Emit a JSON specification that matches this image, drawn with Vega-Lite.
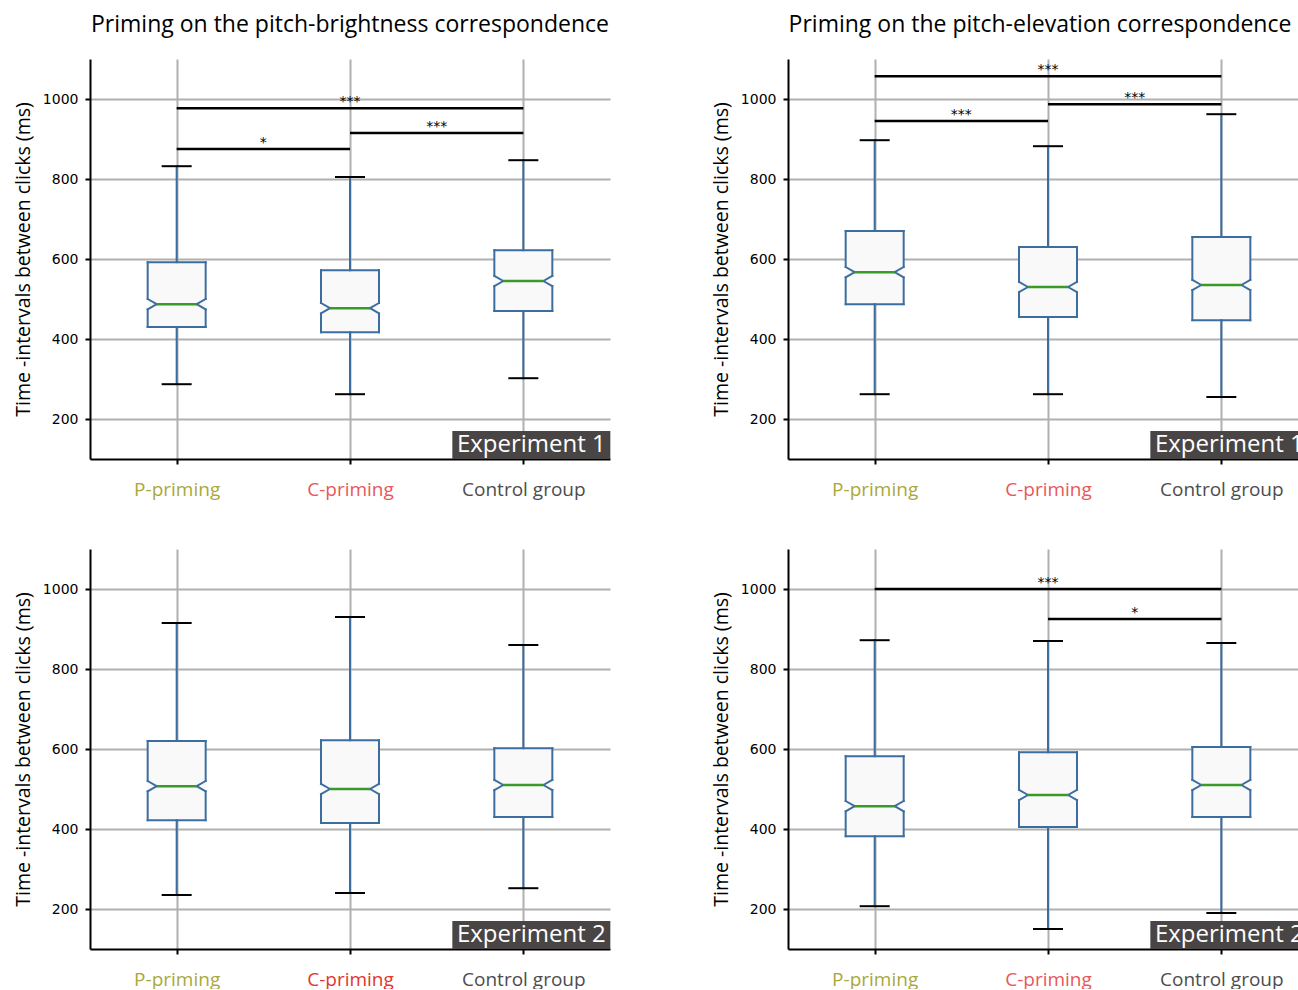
{
"$schema":"https://vega.github.io/schema/vega-lite/v6.json",
"padding":{"left":13,"top":14,"right":0,"bottom":0},
"datasets":{
"stats":[
{"panel":"A","group":"P-priming","lo":287,"q1":430,"nlo":474,"med":487,"nhi":500,"q3":592,"hi":832},
{"panel":"A","group":"C-priming","lo":262,"q1":417,"nlo":464,"med":477,"nhi":490,"q3":572,"hi":805},
{"panel":"A","group":"Control group","lo":302,"q1":470,"nlo":532,"med":545,"nhi":558,"q3":622,"hi":847},
{"panel":"B","group":"P-priming","lo":262,"q1":487,"nlo":554,"med":567,"nhi":580,"q3":670,"hi":897},
{"panel":"B","group":"C-priming","lo":262,"q1":455,"nlo":517,"med":530,"nhi":543,"q3":630,"hi":882},
{"panel":"B","group":"Control group","lo":255,"q1":447,"nlo":522,"med":535,"nhi":548,"q3":655,"hi":962},
{"panel":"C","group":"P-priming","lo":235,"q1":422,"nlo":494,"med":507,"nhi":520,"q3":620,"hi":915},
{"panel":"C","group":"C-priming","lo":240,"q1":415,"nlo":487,"med":500,"nhi":513,"q3":622,"hi":930},
{"panel":"C","group":"Control group","lo":252,"q1":430,"nlo":497,"med":510,"nhi":523,"q3":602,"hi":860},
{"panel":"D","group":"P-priming","lo":207,"q1":382,"nlo":444,"med":457,"nhi":470,"q3":582,"hi":872},
{"panel":"D","group":"C-priming","lo":150,"q1":405,"nlo":472,"med":485,"nhi":498,"q3":592,"hi":870},
{"panel":"D","group":"Control group","lo":190,"q1":430,"nlo":497,"med":510,"nhi":523,"q3":605,"hi":865}
],
"sig":[
{"panel":"A","from":"P-priming","to":"Control group","y":977,"label":"***"},
{"panel":"A","from":"P-priming","to":"C-priming","y":875,"label":"*"},
{"panel":"A","from":"C-priming","to":"Control group","y":915,"label":"***"},
{"panel":"B","from":"P-priming","to":"Control group","y":1057,"label":"***"},
{"panel":"B","from":"P-priming","to":"C-priming","y":945,"label":"***"},
{"panel":"B","from":"C-priming","to":"Control group","y":987,"label":"***"},
{"panel":"D","from":"P-priming","to":"Control group","y":1000,"label":"***"},
{"panel":"D","from":"C-priming","to":"Control group","y":925,"label":"*"}
],
"exp":[
{"panel":"A","text":"Experiment 1","at":"Control group","lo":100,"hi":170,"mid":135},
{"panel":"B","text":"Experiment 1","at":"Control group","lo":100,"hi":170,"mid":135},
{"panel":"C","text":"Experiment 2","at":"Control group","lo":100,"hi":170,"mid":135},
{"panel":"D","text":"Experiment 2","at":"Control group","lo":100,"hi":170,"mid":135}
]
},
"columns":2,
"spacing":{"row":50,"column":100},
"concat":[
{"width":520,"height":400,"title":"Priming on the pitch-brightness correspondence",
"layer":[
{"data":{"name":"stats"},"transform":[{"filter":"datum.panel=='A'"}],
"layer":[
{"mark":{"type":"rect","fill":"#f9f9f9","xOffset":-29,"x2Offset":29},"encoding":{"x":{"field":"group","type":"nominal","title":null,"scale":{"type":"point","padding":0.5,"domain":["P-priming","C-priming","Control group"]},"axis":{"labelColor":{"condition":[{"test":"datum.value=='P-priming'","value":"#aaa83c"},{"test":"datum.value=='C-priming'","value":"#e8575a"}],"value":"#4d4d4d"}}},"x2":{"field":"group"},"y":{"field":"q1","type":"quantitative","title":"Time -intervals between clicks (ms)","scale":{"domain":[100,1100],"nice":false,"zero":false}},"y2":{"field":"q3"}}},
{"mark":{"type":"rule"},"encoding":{"x":{"field":"group","type":"nominal","title":null},"y":{"field":"lo","type":"quantitative","title":"Time -intervals between clicks (ms)"},"y2":{"field":"q1"}}},
{"mark":{"type":"rule"},"encoding":{"x":{"field":"group","type":"nominal","title":null},"y":{"field":"q3","type":"quantitative","title":"Time -intervals between clicks (ms)"},"y2":{"field":"hi"}}},
{"mark":{"type":"rule","xOffset":-29,"x2Offset":29},"encoding":{"x":{"field":"group","type":"nominal","title":null},"x2":{"field":"group"},"y":{"field":"q1","type":"quantitative","title":"Time -intervals between clicks (ms)"}}},
{"mark":{"type":"rule","xOffset":-29,"x2Offset":29},"encoding":{"x":{"field":"group","type":"nominal","title":null},"x2":{"field":"group"},"y":{"field":"q3","type":"quantitative","title":"Time -intervals between clicks (ms)"}}},
{"mark":{"type":"rule","xOffset":-29},"encoding":{"x":{"field":"group","type":"nominal","title":null},"y":{"field":"q1","type":"quantitative","title":"Time -intervals between clicks (ms)"},"y2":{"field":"nlo"}}},
{"mark":{"type":"rule","xOffset":-29},"encoding":{"x":{"field":"group","type":"nominal","title":null},"y":{"field":"nhi","type":"quantitative","title":"Time -intervals between clicks (ms)"},"y2":{"field":"q3"}}},
{"mark":{"type":"rule","xOffset":29},"encoding":{"x":{"field":"group","type":"nominal","title":null},"y":{"field":"q1","type":"quantitative","title":"Time -intervals between clicks (ms)"},"y2":{"field":"nlo"}}},
{"mark":{"type":"rule","xOffset":29},"encoding":{"x":{"field":"group","type":"nominal","title":null},"y":{"field":"nhi","type":"quantitative","title":"Time -intervals between clicks (ms)"},"y2":{"field":"q3"}}},
{"mark":{"type":"rule","xOffset":-29,"x2Offset":-20},"encoding":{"x":{"field":"group","type":"nominal","title":null},"x2":{"field":"group"},"y":{"field":"nlo","type":"quantitative","title":"Time -intervals between clicks (ms)"},"y2":{"field":"med"}}},
{"mark":{"type":"rule","xOffset":-20,"x2Offset":-29},"encoding":{"x":{"field":"group","type":"nominal","title":null},"x2":{"field":"group"},"y":{"field":"med","type":"quantitative","title":"Time -intervals between clicks (ms)"},"y2":{"field":"nhi"}}},
{"mark":{"type":"rule","xOffset":29,"x2Offset":20},"encoding":{"x":{"field":"group","type":"nominal","title":null},"x2":{"field":"group"},"y":{"field":"nlo","type":"quantitative","title":"Time -intervals between clicks (ms)"},"y2":{"field":"med"}}},
{"mark":{"type":"rule","xOffset":20,"x2Offset":29},"encoding":{"x":{"field":"group","type":"nominal","title":null},"x2":{"field":"group"},"y":{"field":"med","type":"quantitative","title":"Time -intervals between clicks (ms)"},"y2":{"field":"nhi"}}},
{"mark":{"type":"rule","color":"#3a9a28","strokeWidth":2.5,"strokeCap":"butt","xOffset":-20,"x2Offset":20},"encoding":{"x":{"field":"group","type":"nominal","title":null},"x2":{"field":"group"},"y":{"field":"med","type":"quantitative","title":"Time -intervals between clicks (ms)"}}},
{"mark":{"type":"rule","color":"#000","strokeCap":"butt","xOffset":-15,"x2Offset":15},"encoding":{"x":{"field":"group","type":"nominal","title":null},"x2":{"field":"group"},"y":{"field":"lo","type":"quantitative","title":"Time -intervals between clicks (ms)"}}},
{"mark":{"type":"rule","color":"#000","strokeCap":"butt","xOffset":-15,"x2Offset":15},"encoding":{"x":{"field":"group","type":"nominal","title":null},"x2":{"field":"group"},"y":{"field":"hi","type":"quantitative","title":"Time -intervals between clicks (ms)"}}}
]},
{"data":{"name":"sig"},"transform":[{"filter":"datum.panel=='A'"}],
"layer":[
{"mark":{"type":"rule","color":"#000","strokeWidth":2.5,"strokeCap":"butt"},"encoding":{"x":{"field":"from","type":"nominal","title":null},"x2":{"field":"to"},"y":{"field":"y","type":"quantitative","title":"Time -intervals between clicks (ms)"}}},
{"transform":[{"filter":"!(datum.from=='P-priming' && datum.to=='Control group')"}],"mark":{"type":"text","font":"DejaVu Sans","fontSize":14,"baseline":"alphabetic","dy":-2,"xOffset":-86.67,"color":"#000"},"encoding":{"x":{"field":"to","type":"nominal","title":null},"y":{"field":"y","type":"quantitative","title":"Time -intervals between clicks (ms)"},"text":{"field":"label"}}},
{"transform":[{"filter":"datum.from=='P-priming' && datum.to=='Control group'"}],"mark":{"type":"text","font":"DejaVu Sans","fontSize":14,"baseline":"alphabetic","dy":-2,"color":"#000"},"encoding":{"x":{"datum":"C-priming","type":"nominal","title":null},"y":{"field":"y","type":"quantitative","title":"Time -intervals between clicks (ms)"},"text":{"field":"label"}}}
]},
{"data":{"name":"exp"},"transform":[{"filter":"datum.panel=='A'"}],
"layer":[
{"mark":{"type":"rect","fill":"#4a4545","width":158,"xOffset":8},"encoding":{"x":{"field":"at","type":"nominal","title":null},"y":{"field":"lo","type":"quantitative","title":"Time -intervals between clicks (ms)"},"y2":{"field":"hi"}}},
{"mark":{"type":"text","font":"Open Sans","fontSize":24,"color":"#fff","xOffset":8,"baseline":"middle"},"encoding":{"x":{"field":"at","type":"nominal","title":null},"y":{"field":"mid","type":"quantitative","title":"Time -intervals between clicks (ms)"},"text":{"field":"text"}}}
]}
]},
{"width":520,"height":400,"title":{"text":"Priming on the pitch-elevation correspondence","dx":-8},
"layer":[
{"data":{"name":"stats"},"transform":[{"filter":"datum.panel=='B'"}],
"layer":[
{"mark":{"type":"rect","fill":"#f9f9f9","xOffset":-29,"x2Offset":29},"encoding":{"x":{"field":"group","type":"nominal","title":null,"scale":{"type":"point","padding":0.5,"domain":["P-priming","C-priming","Control group"]},"axis":{"labelColor":{"condition":[{"test":"datum.value=='P-priming'","value":"#aaa83c"},{"test":"datum.value=='C-priming'","value":"#e8575a"}],"value":"#4d4d4d"}}},"x2":{"field":"group"},"y":{"field":"q1","type":"quantitative","title":"Time -intervals between clicks (ms)","scale":{"domain":[100,1100],"nice":false,"zero":false}},"y2":{"field":"q3"}}},
{"mark":{"type":"rule"},"encoding":{"x":{"field":"group","type":"nominal","title":null},"y":{"field":"lo","type":"quantitative","title":"Time -intervals between clicks (ms)"},"y2":{"field":"q1"}}},
{"mark":{"type":"rule"},"encoding":{"x":{"field":"group","type":"nominal","title":null},"y":{"field":"q3","type":"quantitative","title":"Time -intervals between clicks (ms)"},"y2":{"field":"hi"}}},
{"mark":{"type":"rule","xOffset":-29,"x2Offset":29},"encoding":{"x":{"field":"group","type":"nominal","title":null},"x2":{"field":"group"},"y":{"field":"q1","type":"quantitative","title":"Time -intervals between clicks (ms)"}}},
{"mark":{"type":"rule","xOffset":-29,"x2Offset":29},"encoding":{"x":{"field":"group","type":"nominal","title":null},"x2":{"field":"group"},"y":{"field":"q3","type":"quantitative","title":"Time -intervals between clicks (ms)"}}},
{"mark":{"type":"rule","xOffset":-29},"encoding":{"x":{"field":"group","type":"nominal","title":null},"y":{"field":"q1","type":"quantitative","title":"Time -intervals between clicks (ms)"},"y2":{"field":"nlo"}}},
{"mark":{"type":"rule","xOffset":-29},"encoding":{"x":{"field":"group","type":"nominal","title":null},"y":{"field":"nhi","type":"quantitative","title":"Time -intervals between clicks (ms)"},"y2":{"field":"q3"}}},
{"mark":{"type":"rule","xOffset":29},"encoding":{"x":{"field":"group","type":"nominal","title":null},"y":{"field":"q1","type":"quantitative","title":"Time -intervals between clicks (ms)"},"y2":{"field":"nlo"}}},
{"mark":{"type":"rule","xOffset":29},"encoding":{"x":{"field":"group","type":"nominal","title":null},"y":{"field":"nhi","type":"quantitative","title":"Time -intervals between clicks (ms)"},"y2":{"field":"q3"}}},
{"mark":{"type":"rule","xOffset":-29,"x2Offset":-20},"encoding":{"x":{"field":"group","type":"nominal","title":null},"x2":{"field":"group"},"y":{"field":"nlo","type":"quantitative","title":"Time -intervals between clicks (ms)"},"y2":{"field":"med"}}},
{"mark":{"type":"rule","xOffset":-20,"x2Offset":-29},"encoding":{"x":{"field":"group","type":"nominal","title":null},"x2":{"field":"group"},"y":{"field":"med","type":"quantitative","title":"Time -intervals between clicks (ms)"},"y2":{"field":"nhi"}}},
{"mark":{"type":"rule","xOffset":29,"x2Offset":20},"encoding":{"x":{"field":"group","type":"nominal","title":null},"x2":{"field":"group"},"y":{"field":"nlo","type":"quantitative","title":"Time -intervals between clicks (ms)"},"y2":{"field":"med"}}},
{"mark":{"type":"rule","xOffset":20,"x2Offset":29},"encoding":{"x":{"field":"group","type":"nominal","title":null},"x2":{"field":"group"},"y":{"field":"med","type":"quantitative","title":"Time -intervals between clicks (ms)"},"y2":{"field":"nhi"}}},
{"mark":{"type":"rule","color":"#3a9a28","strokeWidth":2.5,"strokeCap":"butt","xOffset":-20,"x2Offset":20},"encoding":{"x":{"field":"group","type":"nominal","title":null},"x2":{"field":"group"},"y":{"field":"med","type":"quantitative","title":"Time -intervals between clicks (ms)"}}},
{"mark":{"type":"rule","color":"#000","strokeCap":"butt","xOffset":-15,"x2Offset":15},"encoding":{"x":{"field":"group","type":"nominal","title":null},"x2":{"field":"group"},"y":{"field":"lo","type":"quantitative","title":"Time -intervals between clicks (ms)"}}},
{"mark":{"type":"rule","color":"#000","strokeCap":"butt","xOffset":-15,"x2Offset":15},"encoding":{"x":{"field":"group","type":"nominal","title":null},"x2":{"field":"group"},"y":{"field":"hi","type":"quantitative","title":"Time -intervals between clicks (ms)"}}}
]},
{"data":{"name":"sig"},"transform":[{"filter":"datum.panel=='B'"}],
"layer":[
{"mark":{"type":"rule","color":"#000","strokeWidth":2.5,"strokeCap":"butt"},"encoding":{"x":{"field":"from","type":"nominal","title":null},"x2":{"field":"to"},"y":{"field":"y","type":"quantitative","title":"Time -intervals between clicks (ms)"}}},
{"transform":[{"filter":"!(datum.from=='P-priming' && datum.to=='Control group')"}],"mark":{"type":"text","font":"DejaVu Sans","fontSize":14,"baseline":"alphabetic","dy":-2,"xOffset":-86.67,"color":"#000"},"encoding":{"x":{"field":"to","type":"nominal","title":null},"y":{"field":"y","type":"quantitative","title":"Time -intervals between clicks (ms)"},"text":{"field":"label"}}},
{"transform":[{"filter":"datum.from=='P-priming' && datum.to=='Control group'"}],"mark":{"type":"text","font":"DejaVu Sans","fontSize":14,"baseline":"alphabetic","dy":-2,"color":"#000"},"encoding":{"x":{"datum":"C-priming","type":"nominal","title":null},"y":{"field":"y","type":"quantitative","title":"Time -intervals between clicks (ms)"},"text":{"field":"label"}}}
]},
{"data":{"name":"exp"},"transform":[{"filter":"datum.panel=='B'"}],
"layer":[
{"mark":{"type":"rect","fill":"#4a4545","width":158,"xOffset":8},"encoding":{"x":{"field":"at","type":"nominal","title":null},"y":{"field":"lo","type":"quantitative","title":"Time -intervals between clicks (ms)"},"y2":{"field":"hi"}}},
{"mark":{"type":"text","font":"Open Sans","fontSize":24,"color":"#fff","xOffset":8,"baseline":"middle"},"encoding":{"x":{"field":"at","type":"nominal","title":null},"y":{"field":"mid","type":"quantitative","title":"Time -intervals between clicks (ms)"},"text":{"field":"text"}}}
]}
]},
{"width":520,"height":400,
"layer":[
{"data":{"name":"stats"},"transform":[{"filter":"datum.panel=='C'"}],
"layer":[
{"mark":{"type":"rect","fill":"#f9f9f9","xOffset":-29,"x2Offset":29},"encoding":{"x":{"field":"group","type":"nominal","title":null,"scale":{"type":"point","padding":0.5,"domain":["P-priming","C-priming","Control group"]},"axis":{"labelColor":{"condition":[{"test":"datum.value=='P-priming'","value":"#aaa83c"},{"test":"datum.value=='C-priming'","value":"#e0362c"}],"value":"#4d4d4d"}}},"x2":{"field":"group"},"y":{"field":"q1","type":"quantitative","title":"Time -intervals between clicks (ms)","scale":{"domain":[100,1100],"nice":false,"zero":false}},"y2":{"field":"q3"}}},
{"mark":{"type":"rule"},"encoding":{"x":{"field":"group","type":"nominal","title":null},"y":{"field":"lo","type":"quantitative","title":"Time -intervals between clicks (ms)"},"y2":{"field":"q1"}}},
{"mark":{"type":"rule"},"encoding":{"x":{"field":"group","type":"nominal","title":null},"y":{"field":"q3","type":"quantitative","title":"Time -intervals between clicks (ms)"},"y2":{"field":"hi"}}},
{"mark":{"type":"rule","xOffset":-29,"x2Offset":29},"encoding":{"x":{"field":"group","type":"nominal","title":null},"x2":{"field":"group"},"y":{"field":"q1","type":"quantitative","title":"Time -intervals between clicks (ms)"}}},
{"mark":{"type":"rule","xOffset":-29,"x2Offset":29},"encoding":{"x":{"field":"group","type":"nominal","title":null},"x2":{"field":"group"},"y":{"field":"q3","type":"quantitative","title":"Time -intervals between clicks (ms)"}}},
{"mark":{"type":"rule","xOffset":-29},"encoding":{"x":{"field":"group","type":"nominal","title":null},"y":{"field":"q1","type":"quantitative","title":"Time -intervals between clicks (ms)"},"y2":{"field":"nlo"}}},
{"mark":{"type":"rule","xOffset":-29},"encoding":{"x":{"field":"group","type":"nominal","title":null},"y":{"field":"nhi","type":"quantitative","title":"Time -intervals between clicks (ms)"},"y2":{"field":"q3"}}},
{"mark":{"type":"rule","xOffset":29},"encoding":{"x":{"field":"group","type":"nominal","title":null},"y":{"field":"q1","type":"quantitative","title":"Time -intervals between clicks (ms)"},"y2":{"field":"nlo"}}},
{"mark":{"type":"rule","xOffset":29},"encoding":{"x":{"field":"group","type":"nominal","title":null},"y":{"field":"nhi","type":"quantitative","title":"Time -intervals between clicks (ms)"},"y2":{"field":"q3"}}},
{"mark":{"type":"rule","xOffset":-29,"x2Offset":-20},"encoding":{"x":{"field":"group","type":"nominal","title":null},"x2":{"field":"group"},"y":{"field":"nlo","type":"quantitative","title":"Time -intervals between clicks (ms)"},"y2":{"field":"med"}}},
{"mark":{"type":"rule","xOffset":-20,"x2Offset":-29},"encoding":{"x":{"field":"group","type":"nominal","title":null},"x2":{"field":"group"},"y":{"field":"med","type":"quantitative","title":"Time -intervals between clicks (ms)"},"y2":{"field":"nhi"}}},
{"mark":{"type":"rule","xOffset":29,"x2Offset":20},"encoding":{"x":{"field":"group","type":"nominal","title":null},"x2":{"field":"group"},"y":{"field":"nlo","type":"quantitative","title":"Time -intervals between clicks (ms)"},"y2":{"field":"med"}}},
{"mark":{"type":"rule","xOffset":20,"x2Offset":29},"encoding":{"x":{"field":"group","type":"nominal","title":null},"x2":{"field":"group"},"y":{"field":"med","type":"quantitative","title":"Time -intervals between clicks (ms)"},"y2":{"field":"nhi"}}},
{"mark":{"type":"rule","color":"#3a9a28","strokeWidth":2.5,"strokeCap":"butt","xOffset":-20,"x2Offset":20},"encoding":{"x":{"field":"group","type":"nominal","title":null},"x2":{"field":"group"},"y":{"field":"med","type":"quantitative","title":"Time -intervals between clicks (ms)"}}},
{"mark":{"type":"rule","color":"#000","strokeCap":"butt","xOffset":-15,"x2Offset":15},"encoding":{"x":{"field":"group","type":"nominal","title":null},"x2":{"field":"group"},"y":{"field":"lo","type":"quantitative","title":"Time -intervals between clicks (ms)"}}},
{"mark":{"type":"rule","color":"#000","strokeCap":"butt","xOffset":-15,"x2Offset":15},"encoding":{"x":{"field":"group","type":"nominal","title":null},"x2":{"field":"group"},"y":{"field":"hi","type":"quantitative","title":"Time -intervals between clicks (ms)"}}}
]},
{"data":{"name":"exp"},"transform":[{"filter":"datum.panel=='C'"}],
"layer":[
{"mark":{"type":"rect","fill":"#4a4545","width":158,"xOffset":8},"encoding":{"x":{"field":"at","type":"nominal","title":null},"y":{"field":"lo","type":"quantitative","title":"Time -intervals between clicks (ms)"},"y2":{"field":"hi"}}},
{"mark":{"type":"text","font":"Open Sans","fontSize":24,"color":"#fff","xOffset":8,"baseline":"middle"},"encoding":{"x":{"field":"at","type":"nominal","title":null},"y":{"field":"mid","type":"quantitative","title":"Time -intervals between clicks (ms)"},"text":{"field":"text"}}}
]}
]},
{"width":520,"height":400,
"layer":[
{"data":{"name":"stats"},"transform":[{"filter":"datum.panel=='D'"}],
"layer":[
{"mark":{"type":"rect","fill":"#f9f9f9","xOffset":-29,"x2Offset":29},"encoding":{"x":{"field":"group","type":"nominal","title":null,"scale":{"type":"point","padding":0.5,"domain":["P-priming","C-priming","Control group"]},"axis":{"labelColor":{"condition":[{"test":"datum.value=='P-priming'","value":"#aaa83c"},{"test":"datum.value=='C-priming'","value":"#e8575a"}],"value":"#4d4d4d"}}},"x2":{"field":"group"},"y":{"field":"q1","type":"quantitative","title":"Time -intervals between clicks (ms)","scale":{"domain":[100,1100],"nice":false,"zero":false}},"y2":{"field":"q3"}}},
{"mark":{"type":"rule"},"encoding":{"x":{"field":"group","type":"nominal","title":null},"y":{"field":"lo","type":"quantitative","title":"Time -intervals between clicks (ms)"},"y2":{"field":"q1"}}},
{"mark":{"type":"rule"},"encoding":{"x":{"field":"group","type":"nominal","title":null},"y":{"field":"q3","type":"quantitative","title":"Time -intervals between clicks (ms)"},"y2":{"field":"hi"}}},
{"mark":{"type":"rule","xOffset":-29,"x2Offset":29},"encoding":{"x":{"field":"group","type":"nominal","title":null},"x2":{"field":"group"},"y":{"field":"q1","type":"quantitative","title":"Time -intervals between clicks (ms)"}}},
{"mark":{"type":"rule","xOffset":-29,"x2Offset":29},"encoding":{"x":{"field":"group","type":"nominal","title":null},"x2":{"field":"group"},"y":{"field":"q3","type":"quantitative","title":"Time -intervals between clicks (ms)"}}},
{"mark":{"type":"rule","xOffset":-29},"encoding":{"x":{"field":"group","type":"nominal","title":null},"y":{"field":"q1","type":"quantitative","title":"Time -intervals between clicks (ms)"},"y2":{"field":"nlo"}}},
{"mark":{"type":"rule","xOffset":-29},"encoding":{"x":{"field":"group","type":"nominal","title":null},"y":{"field":"nhi","type":"quantitative","title":"Time -intervals between clicks (ms)"},"y2":{"field":"q3"}}},
{"mark":{"type":"rule","xOffset":29},"encoding":{"x":{"field":"group","type":"nominal","title":null},"y":{"field":"q1","type":"quantitative","title":"Time -intervals between clicks (ms)"},"y2":{"field":"nlo"}}},
{"mark":{"type":"rule","xOffset":29},"encoding":{"x":{"field":"group","type":"nominal","title":null},"y":{"field":"nhi","type":"quantitative","title":"Time -intervals between clicks (ms)"},"y2":{"field":"q3"}}},
{"mark":{"type":"rule","xOffset":-29,"x2Offset":-20},"encoding":{"x":{"field":"group","type":"nominal","title":null},"x2":{"field":"group"},"y":{"field":"nlo","type":"quantitative","title":"Time -intervals between clicks (ms)"},"y2":{"field":"med"}}},
{"mark":{"type":"rule","xOffset":-20,"x2Offset":-29},"encoding":{"x":{"field":"group","type":"nominal","title":null},"x2":{"field":"group"},"y":{"field":"med","type":"quantitative","title":"Time -intervals between clicks (ms)"},"y2":{"field":"nhi"}}},
{"mark":{"type":"rule","xOffset":29,"x2Offset":20},"encoding":{"x":{"field":"group","type":"nominal","title":null},"x2":{"field":"group"},"y":{"field":"nlo","type":"quantitative","title":"Time -intervals between clicks (ms)"},"y2":{"field":"med"}}},
{"mark":{"type":"rule","xOffset":20,"x2Offset":29},"encoding":{"x":{"field":"group","type":"nominal","title":null},"x2":{"field":"group"},"y":{"field":"med","type":"quantitative","title":"Time -intervals between clicks (ms)"},"y2":{"field":"nhi"}}},
{"mark":{"type":"rule","color":"#3a9a28","strokeWidth":2.5,"strokeCap":"butt","xOffset":-20,"x2Offset":20},"encoding":{"x":{"field":"group","type":"nominal","title":null},"x2":{"field":"group"},"y":{"field":"med","type":"quantitative","title":"Time -intervals between clicks (ms)"}}},
{"mark":{"type":"rule","color":"#000","strokeCap":"butt","xOffset":-15,"x2Offset":15},"encoding":{"x":{"field":"group","type":"nominal","title":null},"x2":{"field":"group"},"y":{"field":"lo","type":"quantitative","title":"Time -intervals between clicks (ms)"}}},
{"mark":{"type":"rule","color":"#000","strokeCap":"butt","xOffset":-15,"x2Offset":15},"encoding":{"x":{"field":"group","type":"nominal","title":null},"x2":{"field":"group"},"y":{"field":"hi","type":"quantitative","title":"Time -intervals between clicks (ms)"}}}
]},
{"data":{"name":"sig"},"transform":[{"filter":"datum.panel=='D'"}],
"layer":[
{"mark":{"type":"rule","color":"#000","strokeWidth":2.5,"strokeCap":"butt"},"encoding":{"x":{"field":"from","type":"nominal","title":null},"x2":{"field":"to"},"y":{"field":"y","type":"quantitative","title":"Time -intervals between clicks (ms)"}}},
{"transform":[{"filter":"!(datum.from=='P-priming' && datum.to=='Control group')"}],"mark":{"type":"text","font":"DejaVu Sans","fontSize":14,"baseline":"alphabetic","dy":-2,"xOffset":-86.67,"color":"#000"},"encoding":{"x":{"field":"to","type":"nominal","title":null},"y":{"field":"y","type":"quantitative","title":"Time -intervals between clicks (ms)"},"text":{"field":"label"}}},
{"transform":[{"filter":"datum.from=='P-priming' && datum.to=='Control group'"}],"mark":{"type":"text","font":"DejaVu Sans","fontSize":14,"baseline":"alphabetic","dy":-2,"color":"#000"},"encoding":{"x":{"datum":"C-priming","type":"nominal","title":null},"y":{"field":"y","type":"quantitative","title":"Time -intervals between clicks (ms)"},"text":{"field":"label"}}}
]},
{"data":{"name":"exp"},"transform":[{"filter":"datum.panel=='D'"}],
"layer":[
{"mark":{"type":"rect","fill":"#4a4545","width":158,"xOffset":8},"encoding":{"x":{"field":"at","type":"nominal","title":null},"y":{"field":"lo","type":"quantitative","title":"Time -intervals between clicks (ms)"},"y2":{"field":"hi"}}},
{"mark":{"type":"text","font":"Open Sans","fontSize":24,"color":"#fff","xOffset":8,"baseline":"middle"},"encoding":{"x":{"field":"at","type":"nominal","title":null},"y":{"field":"mid","type":"quantitative","title":"Time -intervals between clicks (ms)"},"text":{"field":"text"}}}
]}
]}
],
"config":{
"view":{"stroke":null},
"font":"Open Sans",
"rule":{"color":"#3c6d9f","strokeWidth":2,"strokeCap":"square"},
"axis":{"zindex":0,"domainColor":"#000","domainWidth":2,"tickColor":"#000","tickWidth":2,"tickSize":5,"gridColor":"#b0b0b0","gridWidth":2,"grid":true,"labelColor":"#000"},
"axisX":{"labelFont":"Open Sans","labelFontSize":19,"labelPadding":16,"labelAngle":0},
"axisY":{"labelFont":"DejaVu Sans","labelFontSize":14,"labelPadding":7,"tickCount":5,"format":"d","titleFont":"Open Sans","titleFontSize":19.5,"titleFontWeight":"normal","titleColor":"#000","titlePadding":9},
"title":{"font":"Open Sans","fontSize":23,"fontWeight":"normal","color":"#000","offset":22,"frame":"group"}
}
}
